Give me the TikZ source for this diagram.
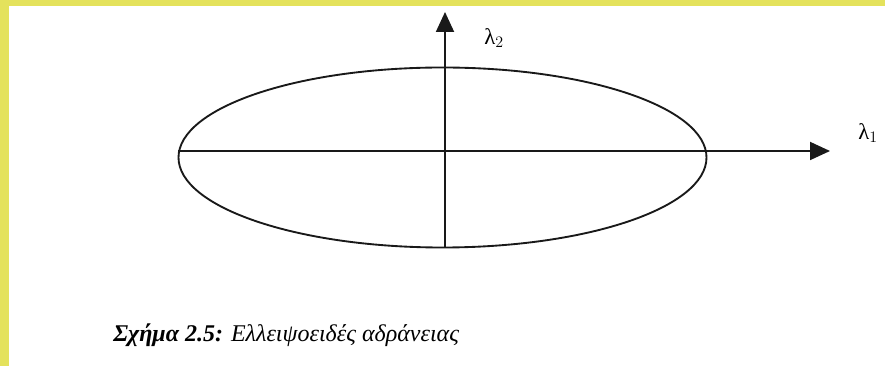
\documentclass[tikz,border=0pt]{standalone}
\usepackage{fontspec}
\setmainfont{Liberation Serif}
\usetikzlibrary{arrows.meta,shapes.geometric}
\definecolor{frameyellow}{RGB}{228,226,92}
\definecolor{inkline}{RGB}{25,25,25}
\tikzset{
  axis/.style={line width=1.4pt, draw=inkline, -{Triangle[length=15pt,width=13.5pt]}},
  ellipsebox/.style={draw=inkline, line width=1.4pt, ellipse, inner sep=0pt,
     minimum width=396pt, minimum height=135pt},
  axlabel/.style={font=\fontsize{17}{20}\selectfont, inner sep=0pt},
  caption/.style={font=\fontsize{18}{21}\selectfont\itshape, inner sep=0pt, anchor=base west}
}
\begin{document}
\begin{tikzpicture}[x=0.75pt,y=-0.75pt]
\useasboundingbox (0,0) rectangle (885,366);
\fill[white] (0,0) rectangle (885,366);
\fill[frameyellow] (0,0) rectangle (885,6);
\fill[frameyellow] (0,0) rectangle (9,366);
\node[ellipsebox] (E) at (442.5,157.5) {};
\coordinate (xs) at (178,151);
\coordinate (xe) at (830,151);
\coordinate (ys) at (445,248);
\coordinate (ye) at (445,12);
\draw[axis] (xs) -- (xe);
\draw[axis] (ys) -- (ye);
\node[axlabel] (l2) at (494,38) {λ$_2$};
\node[axlabel] (l1) at (868,133) {λ$_1$};
\node[caption] (cap) at (113,342) {\textbf{Σχήμα 2.5:} Ελλειψοειδές αδράνειας};
\end{tikzpicture}
\end{document}
